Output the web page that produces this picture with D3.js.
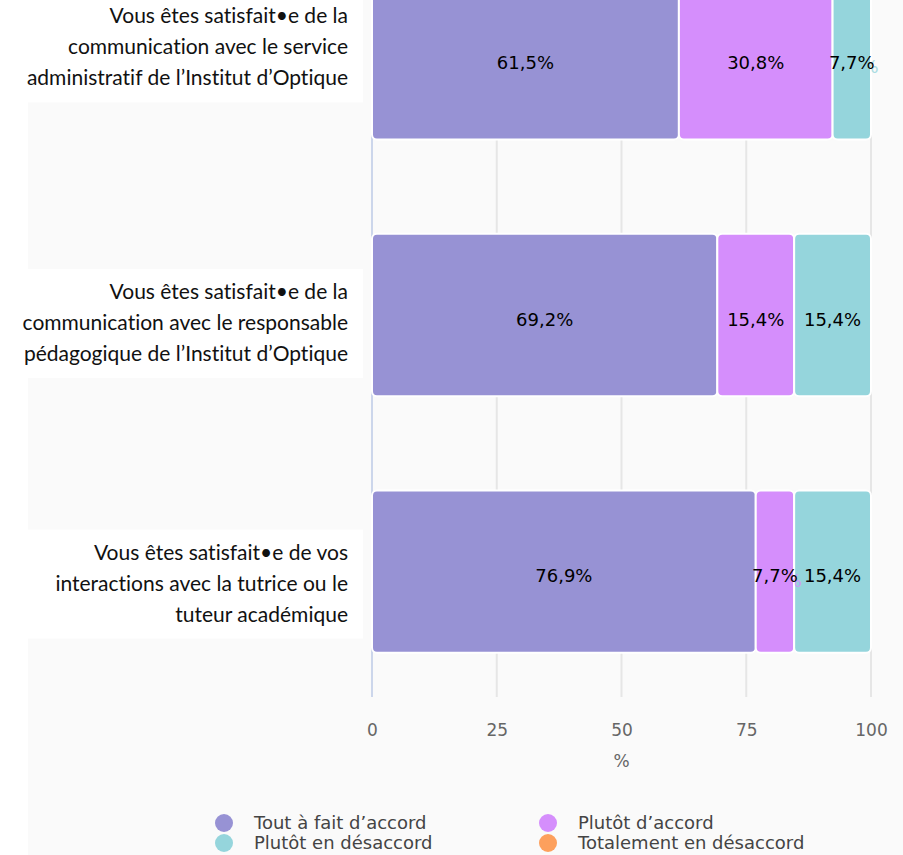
<!DOCTYPE html>
<html>
<head>
<meta charset="utf-8">
<script src="https://cdn.jsdelivr.net/npm/d3@7"></script>
<style>
  html, body { margin: 0; padding: 0; background: #fff; }
  svg { display: block; }
</style>
</head>
<body>
<script>
// categories (question labels, one line per entry)
const categories = [
  ['Vous êtes satisfait•e de la', 'communication avec le service', 'administratif de l’Institut d’Optique'],
  ['Vous êtes satisfait•e de la', 'communication avec le responsable', 'pédagogique de l’Institut d’Optique'],
  ['Vous êtes satisfait•e de vos', 'interactions avec la tutrice ou le', 'tuteur académique']
]
const series = ['Tout à fait d’accord', 'Plutôt d’accord', 'Plutôt en désaccord', 'Totalement en désaccord']
const colors = ['#9792d4', '#d58efc', '#95d5dc', '#fda05d']

const toutAFait = [61.5, 69.2, 76.9]
const plutotAccord = [30.8, 15.4, 7.7]
const plutotDesaccord = [7.7, 15.4, 15.4]
const totalementDesaccord = [0, 0, 0]
const xTicks = [0, 25, 50, 75, 100]

const values = [toutAFait, plutotAccord, plutotDesaccord, totalementDesaccord]

const width = 903
const height = 855

// the question labels are not all centred on their bar in the original
const labelShift = [-11, 8, 12]

const svg = d3.select('body').append('svg').attr('width', width).attr('height', height)

// panel background
svg.append('rect').attr('x', 28).attr('y', 0).attr('width', width - 28).attr('height', height).attr('fill', '#fafafa')

const x = d3.scaleLinear().domain([0, 100]).range([372, 871])
const y = d3.scaleBand().domain(d3.range(categories.length)).range([-69, 699]).paddingInner(0.367).paddingOuter(0.18)

// grid
svg.append('g')
  .selectAll('line')
  .data(xTicks.slice(1))
  .join('line')
  .attr('x1', (d) => x(d)).attr('x2', (d) => x(d))
  .attr('y1', 0).attr('y2', 697)
  .attr('stroke', '#e6e6e6').attr('stroke-width', 2)

svg.append('line')
  .attr('x1', x(0)).attr('x2', x(0)).attr('y1', 0).attr('y2', 697)
  .attr('stroke', '#ccd6eb').attr('stroke-width', 2)

// white boxes behind question labels
const labelG = svg.append('g')
categories.forEach((lines, i) => {
  const mid = y(i) + y.bandwidth() / 2 + labelShift[i]
  labelG.append('rect')
    .attr('x', 0).attr('y', mid - 54).attr('width', 363).attr('height', 109)
    .attr('fill', '#fff')
  labelG.append('text')
    .attr('x', 348).attr('y', mid - 31 + 7)
    .attr('text-anchor', 'end')
    .attr('font-family', 'Lato, sans-serif')
    .attr('font-size', 21)
    .style('font-variant-ligatures', 'none')
    .attr('fill', '#111')
    .selectAll('tspan')
    .data(lines)
    .join('tspan')
    .attr('x', 348)
    .attr('dy', (d, j) => (j === 0 ? 0 : 31))
    .text((d) => d)
})

// stacked segments
const fmt = (v) => v.toFixed(1).replace('.', ',') + '%'
const segs = []
categories.forEach((c, i) => {
  let acc = 0
  values.forEach((vals, s) => {
    const v = vals[i]
    if (v > 0) segs.push({ i, s, x0: acc, x1: acc + v, v })
    acc += v
  })
})

const barG = svg.append('g')
barG.selectAll('rect')
  .data(segs)
  .join('rect')
  .attr('x', (d) => x(d.x0))
  .attr('y', (d) => y(d.i))
  .attr('width', (d) => x(d.x1) - x(d.x0))
  .attr('height', y.bandwidth())
  .attr('rx', 5)
  .attr('fill', (d) => colors[d.s])
  .attr('stroke', '#fff')
  .attr('stroke-width', 2)

// faint ghost of labels in series colour
barG.selectAll('text.ghost')
  .data(segs)
  .join('text')
  .attr('class', 'ghost')
  .attr('x', (d) => (x(d.x0) + x(d.x1)) / 2 + 4)
  .attr('y', (d) => y(d.i) + y.bandwidth() / 2 + 15)
  .attr('text-anchor', 'middle')
  .attr('font-family', 'DejaVu Sans, sans-serif')
  .attr('font-size', 18)
  .attr('fill', (d) => colors[d.s])
  .attr('opacity', 0.8)
  .text((d) => fmt(d.v))

barG.selectAll('text.lbl')
  .data(segs)
  .join('text')
  .attr('class', 'lbl')
  .attr('x', (d) => (x(d.x0) + x(d.x1)) / 2)
  .attr('y', (d) => y(d.i) + y.bandwidth() / 2 + 10.5)
  .attr('text-anchor', 'middle')
  .attr('font-family', 'DejaVu Sans, sans-serif')
  .attr('font-size', 18)
  .attr('fill', '#000')
  .text((d) => fmt(d.v))

// x axis
const axis = svg.append('g')
  .attr('transform', 'translate(0,721)')
  .call(d3.axisBottom(x).tickValues(xTicks).tickSize(0).tickPadding(0))
axis.select('.domain').remove()
axis.selectAll('text')
  .attr('font-family', 'DejaVu Sans, sans-serif')
  .attr('font-size', 17)
  .attr('fill', '#666')
  .attr('dy', '0.9em')

svg.append('text')
  .attr('x', x(50)).attr('y', 767)
  .attr('text-anchor', 'middle')
  .attr('font-family', 'DejaVu Sans, sans-serif')
  .attr('font-size', 17)
  .attr('fill', '#666')
  .text('%')

// legend
const legendPos = [[224, 823], [548, 823], [224, 843], [548, 843]]
const legend = svg.append('g')
  .selectAll('g')
  .data(series)
  .join('g')
  .attr('transform', (d, i) => `translate(${legendPos[i][0]},${legendPos[i][1]})`)
legend.append('circle').attr('r', 9).attr('fill', (d, i) => colors[i])
legend.append('text')
  .attr('x', 30).attr('y', 6)
  .attr('font-family', 'DejaVu Sans, sans-serif')
  .attr('font-size', 18)
  .attr('fill', '#444')
  .text((d) => d)
</script>
</body>
</html>
